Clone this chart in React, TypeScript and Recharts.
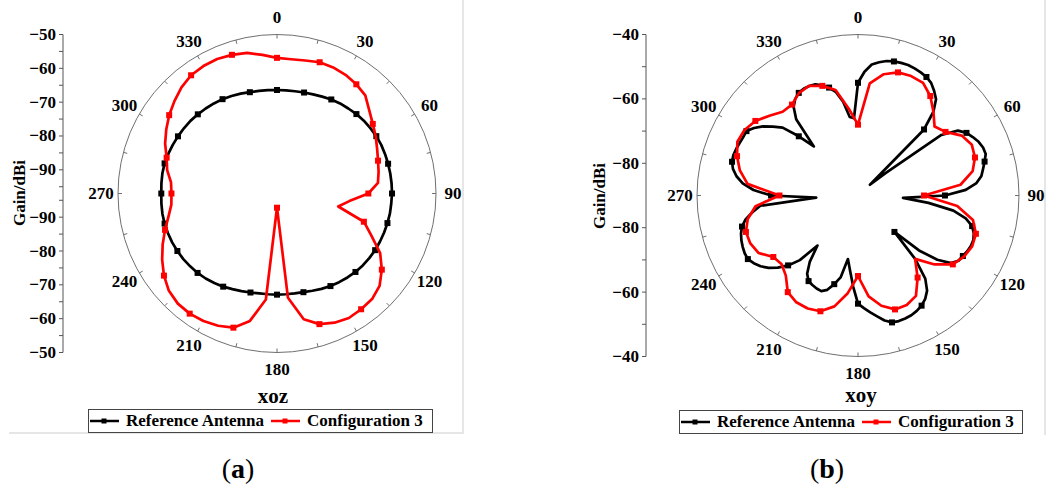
import React from "react"
import { RadarChart, Radar, PolarAngleAxis, PolarRadiusAxis, LineChart, XAxis, YAxis } from "recharts"

const SERIES_NAMES = ["Reference Antenna", "Configuration 3"]
const SERIES_COLORS = ["#000000", "#ff0000"]

// angle categories (degrees, clockwise from top)
const angles3 = [
  0, 3, 6, 9, 12, 15, 18, 21, 24, 27, 30, 33, 36, 39, 42, 45, 48, 51, 54, 57,
  60, 63, 66, 69, 72, 75, 78, 81, 84, 87, 90, 93, 96, 99, 102, 105, 108, 111, 114, 117,
  120, 123, 126, 129, 132, 135, 138, 141, 144, 147, 150, 153, 156, 159, 162, 165, 168, 171, 174, 177,
  180, 183, 186, 189, 192, 195, 198, 201, 204, 207, 210, 213, 216, 219, 222, 225, 228, 231, 234, 237,
  240, 243, 246, 249, 252, 255, 258, 261, 264, 267, 270, 273, 276, 279, 282, 285, 288, 291, 294, 297,
  300, 303, 306, 309, 312, 315, 318, 321, 324, 327, 330, 333, 336, 339, 342, 345, 348, 351, 354, 357,
]
const angles5 = [
  0, 5, 10, 15, 20, 25, 30, 35, 40, 45, 50, 55, 60, 65, 70, 75, 80, 85,
  90, 95, 100, 105, 110, 115, 120, 125, 130, 135, 140, 145, 150, 155, 160, 165, 170, 175,
  180, 185, 190, 195, 200, 205, 210, 215, 220, 225, 230, 235, 240, 245, 250, 255, 260, 265,
  270, 275, 280, 285, 290, 295, 300, 305, 310, 315, 320, 325, 330, 335, 340, 345, 350, 355,
]
const angles6 = [
  0, 6, 12, 18, 24, 30, 36, 42, 48, 54, 60, 66, 72, 78, 84, 90, 96, 102, 108, 114,
  120, 126, 132, 138, 144, 150, 156, 162, 168, 174, 180, 186, 192, 198, 204, 210, 216, 222, 228, 234,
  240, 246, 252, 258, 264, 270, 276, 282, 288, 294, 300, 306, 312, 318, 324, 330, 336, 342, 348, 354,
]
const angleLabels = [0, 30, 60, 90, 120, 150, 180, 210, 240, 270, 300, 330]

// (a) xoz plane, gain in dBi
const xozReference = [
  -66.4, -66.4, -66.3, -66.1, -65.8, -65.4, -64.9, -64.5, -64.2, -63.8, -63.5, -63.3,
  -63.1, -63.0, -63.0, -63.0, -63.0, -63.0, -63.0, -63.1, -63.1, -63.2, -63.3, -63.4,
  -63.5, -63.7, -63.9, -64.2, -64.6, -65.0, -65.4, -65.9, -66.4, -66.8, -67.0, -67.1,
  -67.1, -67.1, -67.0, -66.7, -66.3, -65.8, -65.2, -64.7, -64.2, -63.8, -63.5, -63.2,
  -63.0, -62.8, -62.7, -62.6, -62.6, -62.7, -62.8, -62.7, -62.6, -62.6, -62.8, -63.0,
  -63.2, -63.4, -63.6, -63.9, -64.2, -64.5, -64.8, -65.2, -65.6, -66.0, -66.2, -66.3,
]
const xozConfig3 = [
  -56.9, -57.1, -56.8, -56.2, -56.2, -56.5, -57.1, -58, -60.3, -62,
  -63.3, -64.6, -65.6, -66.3, -67, -70, -75.5, -78.5, -70, -66.5,
  -61.8, -58.7, -56.2, -55, -54.7, -54.5, -55.2, -56.4, -59, -66,
  -92.8, -65.5, -58.5, -55.3, -54.2, -53.5, -53.1, -53.2, -54, -55.7,
  -57.8, -60, -62.2, -64.2, -65.6, -65.8, -65.5, -63.8, -62.7, -60.8,
  -59.2, -57.6, -56.2, -54.8, -53.8, -53.5, -53.5, -53.9, -54.5, -55.8,
]

// (b) xoy plane, gain in dBi
const xoyReference = [
  -55, -51.5, -49.1, -48.1, -47.3, -46.9, -46.7, -46.6, -46.8, -47.1,
  -47.5, -48.3, -49.8, -51.5, -55, -61, -85, -79, -58, -53,
  -51.1, -50, -49, -48.4, -48.3, -49.3, -50.3, -51.2, -53, -56.5,
  -63, -76, -68, -60, -55.8, -53.3, -52.2, -51.6, -51.6, -51.9,
  -52.4, -52.8, -54.3, -58.3, -64.5, -74, -63.5, -56.8, -53.5, -51.7,
  -50.5, -49.8, -49.3, -49.1, -49, -49.2, -50.3, -52, -53.5, -55,
  -56.4, -61.6, -66.5, -70, -64, -61.5, -59.2, -58.2, -58.4, -58.8,
  -59.3, -61, -64.5, -70, -63, -59.3, -56.5, -54.3, -52.6, -51.4,
  -50.5, -50.5, -50.8, -51.2, -51.8, -52.7, -54.3, -56.8, -59.5, -77,
  -63, -57.5, -54, -51.8, -50.3, -49.5, -49.3, -49.5, -49.8, -50,
  -50, -51.5, -53.5, -56, -58.5, -64, -69.5, -59.5, -56, -54.2,
  -53.2, -52.8, -52.8, -53, -54, -55.3, -57.2, -60.5, -65.5, -66,
]
const xoyConfig3 = [
  -68, -55, -51.5, -49.8, -49.4, -49.6, -51.8, -55, -58, -56.4,
  -52.8, -51.3, -51.8, -53.6, -58, -69.5, -59, -53.5, -51.5, -51.2,
  -52, -53.6, -58, -63.5, -58.5, -54, -52.8, -52.8, -55, -58.5,
  -65, -59.5, -54.8, -52.2, -51.6, -51.7, -52.9, -56.5, -58.1, -57.5,
  -54.3, -53.4, -53.4, -55, -58, -65.6, -55.5, -52.5, -50.5, -49,
  -49.3, -50.6, -53, -55, -55.1, -53.3, -52.7, -54.2, -56.5, -63,
]

const xozRadialMajor = [-50, -60, -70, -80, -90]
const xozRadialMinor = [-55, -65, -75, -85, -95]
const xoyRadialMajor = [-40, -60, -80]
const xoyRadialMinor = [-50, -70]

const FONT = '"Liberation Serif", "Times New Roman", serif'
const AXIS_GRAY = "#6f6f6f"
const PLOT_W = 527
const PLOT_H = 400

function squareDot(color: string, every: number) {
  return (props: any) => {
    const { cx, cy, index } = props
    if (index % every !== 0 || cx == null || cy == null) return <g key={`dot-${index}`} />
    return <rect key={`dot-${index}`} x={cx - 3} y={cy - 3} width={6} height={6} fill={color} />
  }
}

interface PolarPlotProps {
  left: number
  cx: number
  cy: number
  radius: number
  domain: [number, number]
  angles: number[]
  gain: number[]
  color: string
  name: string
  every: number
  showAxis?: boolean
}

function PolarPlot({ left, cx, cy, radius, domain, angles, gain, color, name, every, showAxis }: PolarPlotProps) {
  const rows = angles.map((a, i) => ({ angle: a, gain: gain[i] }))

  const angleTick = (props: any) => {
    const { x, y, payload } = props
    const v = Number(payload.value)
    const dx = x - cx
    const dy = y - cy
    const d = Math.hypot(dx, dy) || 1
    const ux = dx / d
    const uy = dy / d
    const px = cx + ux * radius
    const py = cy + uy * radius
    return (
      <g>
        {v % 15 === 0 && (
          <line x1={px} y1={py} x2={px - ux * 4} y2={py - uy * 4} stroke={AXIS_GRAY} strokeWidth={1} />
        )}
        {angleLabels.includes(v) && (
          <text x={x} y={y} textAnchor="middle" dominantBaseline="central" fontFamily={FONT} fontWeight="bold" fontSize={17} fill="#000">
            {v}
          </text>
        )}
      </g>
    )
  }

  return (
    <div style={{ position: "absolute", left, top: 0 }}>
      <RadarChart width={PLOT_W} height={PLOT_H} data={rows} cx={cx} cy={cy} outerRadius={radius} margin={{ top: 0, right: 0, bottom: 0, left: 0 }}>
        {showAxis ? (
          <PolarAngleAxis
            dataKey="angle"
            axisLineType="circle"
            stroke={AXIS_GRAY}
            axisLine={{ stroke: AXIS_GRAY, strokeWidth: 1 }}
            tickLine={false}
            tickSize={17}
            tick={angleTick}
          />
        ) : (
          <PolarAngleAxis dataKey="angle" tick={false} axisLine={false} tickLine={false} />
        )}
        <PolarRadiusAxis type="number" domain={domain} allowDataOverflow tick={false} axisLine={false} />
        <Radar
          name={name}
          dataKey="gain"
          stroke={color}
          strokeWidth={2.7}
          strokeLinejoin="round"
          fill="none"
          fillOpacity={0}
          dot={squareDot(color, every)}
          isAnimationActive={false}
        />
      </RadarChart>
    </div>
  )
}

interface RadialScaleProps {
  left: number
  axisX: number
  cy: number
  radius: number
  domain: [number, number]
  major: number[]
  minor: number[]
}

function RadialScale({ left, axisX, cy, radius, domain, major, minor }: RadialScaleProps) {
  const span = domain[1] - domain[0]
  const offsets = [...major, ...minor].flatMap((v) => [v - domain[0], -(v - domain[0])])
  const rows = major.map((v) => ({ v }))

  const radialTick = (props: any) => {
    const { x, y, payload } = props
    const db = domain[0] + Math.abs(Number(payload.value))
    if (!major.includes(db)) return <g />
    return (
      <text x={x} y={y} textAnchor="end" dominantBaseline="central" fontFamily={FONT} fontWeight="bold" fontSize={17} fill="#000">
        {"\u2212" + Math.abs(db)}
      </text>
    )
  }

  return (
    <div style={{ position: "absolute", left, top: 0 }}>
      <LineChart width={axisX + 6} height={PLOT_H} data={rows} margin={{ top: cy - radius, bottom: PLOT_H - cy - radius, left: 0, right: 6 }}>
        <XAxis hide />
        <YAxis
          type="number"
          domain={[-span, span]}
          allowDataOverflow
          ticks={offsets}
          interval={0}
          width={axisX}
          tickSize={4}
          tickMargin={3}
          stroke="#555"
          tick={radialTick}
        />
      </LineChart>
    </div>
  )
}

function TextAt({ x, y, size, bold, children, rotate }: { x: number; y: number; size: number; bold?: boolean; rotate?: boolean; children: React.ReactNode }) {
  return (
    <div
      style={{
        position: "absolute",
        left: x - 100,
        top: y - 17,
        width: 200,
        height: 34,
        lineHeight: "34px",
        textAlign: "center",
        fontFamily: FONT,
        fontWeight: bold ? "bold" : "normal",
        fontSize: size,
        color: "#000",
        transform: rotate ? "rotate(-90deg)" : undefined,
        whiteSpace: "nowrap",
      }}
    >
      {children}
    </div>
  )
}

function LegendBox({ left, top, width, height }: { left: number; top: number; width: number; height: number }) {
  return (
    <div
      style={{
        position: "absolute",
        left,
        top,
        width,
        height,
        boxSizing: "border-box",
        border: "1px solid #444",
        background: "#fff",
        display: "flex",
        alignItems: "center",
        paddingLeft: 1,
        gap: 7,
        fontFamily: FONT,
        fontWeight: "bold",
        fontSize: 17,
        whiteSpace: "nowrap",
      }}
    >
      {SERIES_NAMES.map((name, i) => (
        <div key={name} style={{ display: "flex", alignItems: "center", gap: 7 }}>
          <svg width={29} height={8}>
            <line x1={0} y1={4} x2={29} y2={4} stroke={SERIES_COLORS[i]} strokeWidth={2.5} />
            <rect x={11.5} y={1.5} width={5} height={5} fill={SERIES_COLORS[i]} />
          </svg>
          <span>{name}</span>
        </div>
      ))}
    </div>
  )
}

function Caption({ x, y, letter }: { x: number; y: number; letter: string }) {
  return (
    <TextAt x={x} y={y} size={28}>
      (<b>{letter}</b>)
    </TextAt>
  )
}

export default function App() {
  return (
    <div style={{ position: "absolute", left: 0, top: 0, width: 1054, height: 492, background: "#fff", overflow: "hidden" }}>
      {/* panel frames */}
      <div style={{ position: "absolute", left: 462, top: 0, width: 2, height: 434, background: "#e6e6e6" }} />
      <div style={{ position: "absolute", left: 9, top: 432, width: 455, height: 2, background: "#e6e6e6" }} />
      <div style={{ position: "absolute", left: 1044, top: 0, width: 2, height: 435, background: "#e6e6e6" }} />

      {/* (a) xoz */}
      <RadialScale left={0} axisX={63} cy={193.5} radius={159} domain={[-97, -50]} major={xozRadialMajor} minor={xozRadialMinor} />
      <PolarPlot left={0} cx={277} cy={193.5} radius={159} domain={[-97, -50]} angles={angles5} gain={xozReference} color={SERIES_COLORS[0]} name={SERIES_NAMES[0]} every={3} showAxis />
      <PolarPlot left={0} cx={277} cy={193.5} radius={159} domain={[-97, -50]} angles={angles6} gain={xozConfig3} color={SERIES_COLORS[1]} name={SERIES_NAMES[1]} every={3} />
      <TextAt x={20} y={193} size={17} bold rotate>Gain/dBi</TextAt>
      <TextAt x={273} y={396} size={21} bold>xoz</TextAt>
      <LegendBox left={88} top={409} width={345} height={24} />
      <Caption x={238} y={469} letter="a" />

      {/* (b) xoy */}
      <RadialScale left={527} axisX={119} cy={195.5} radius={161} domain={[-90, -40]} major={xoyRadialMajor} minor={xoyRadialMinor} />
      <PolarPlot left={527} cx={331} cy={195.5} radius={161} domain={[-90, -40]} angles={angles3} gain={xoyReference} color={SERIES_COLORS[0]} name={SERIES_NAMES[0]} every={5} showAxis />
      <PolarPlot left={527} cx={331} cy={195.5} radius={161} domain={[-90, -40]} angles={angles6} gain={xoyConfig3} color={SERIES_COLORS[1]} name={SERIES_NAMES[1]} every={3} />
      <TextAt x={600} y={196} size={17} bold rotate>Gain/dBi</TextAt>
      <TextAt x={861} y={395} size={21} bold>xoy</TextAt>
      <LegendBox left={679} top={410} width={344} height={24} />
      <Caption x={827} y={469} letter="b" />
    </div>
  )
}
